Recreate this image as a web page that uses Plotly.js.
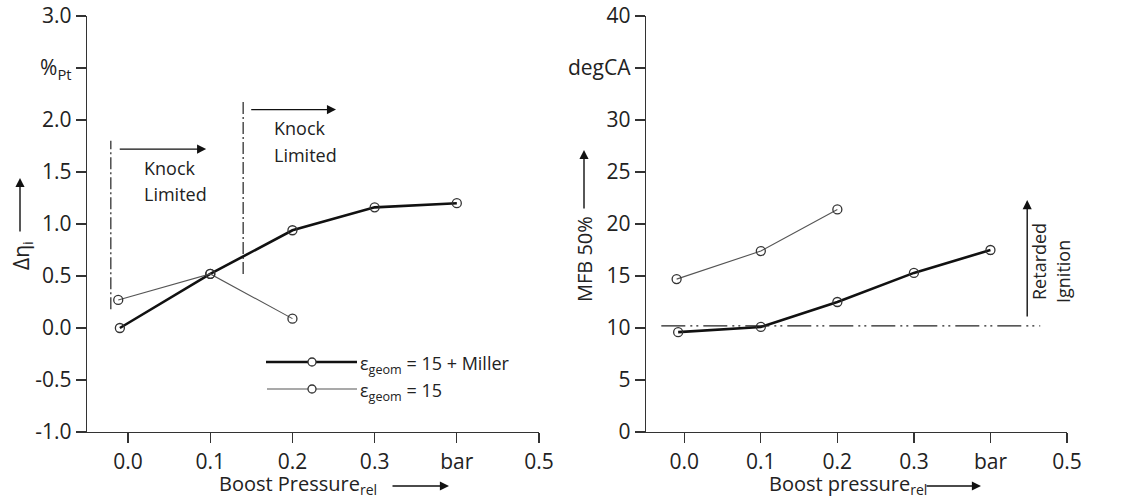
<!DOCTYPE html>
<html>
<head>
<meta charset="utf-8">
<script src="https://cdn.plot.ly/plotly-3.0.1.min.js"></script>
<style>html,body{margin:0;padding:0;background:#fff}#chart{width:1123px;height:501px}</style>
</head>
<body>
<div id="chart"></div>
<script>
// ---- data ----
const boostMillerL = [-0.01, 0.1, 0.2, 0.3, 0.4];
const etaMiller = [0.0, 0.52, 0.94, 1.16, 1.2];
const boostBaseL = [-0.012, 0.1, 0.2];
const etaBase = [0.27, 0.52, 0.09];

const boostMillerR = [-0.008, 0.1, 0.2, 0.3, 0.4];
const mfbMiller = [9.6, 10.1, 12.5, 15.3, 17.5];
const boostBaseR = [-0.01, 0.1, 0.2];
const mfbBase = [14.7, 17.4, 21.4];

const xTickVals = [0, 0.1, 0.2, 0.3, 0.4, 0.5];
const xTickText = ['0.0', '0.1', '0.2', '0.3', 'bar', '0.5'];
const yTickValsL = [-1, -0.5, 0, 0.5, 1, 1.5, 2, 2.5, 3];
const yTickTextL = ['-1.0', '-0.5', '0.0', '0.5', '1.0', '1.5', '2.0', '%<sub>Pt</sub>', '3.0'];
const yTickValsR = [0, 5, 10, 15, 20, 25, 30, 35, 40];
const yTickTextR = ['0', '5', '10', '15', '20', '25', '30', 'degCA', '40'];

const seriesNames = ['ε<sub>geom</sub> = 15 + Miller', 'ε<sub>geom</sub> = 15'];

// ---- styling ----
const FONT = '"Open Sans", "Noto Sans", sans-serif';
const TXT = '#222';
const W = 1123, H = 501;
const px = v => v / W;
const py = v => 1 - v / H;

const thick = {color: '#111', width: 2.6};
const thin = {color: '#555', width: 1.1};
const mk = {symbol: 'circle-open', size: 9, color: '#333', line: {width: 1.3, color: '#333'}};

const traces = [
  {x: boostMillerL, y: etaMiller, xaxis: 'x', yaxis: 'y', mode: 'lines+markers', line: thick, marker: mk, name: seriesNames[0]},
  {x: boostBaseL, y: etaBase, xaxis: 'x', yaxis: 'y', mode: 'lines+markers', line: thin, marker: mk, name: seriesNames[1]},
  {x: boostMillerR, y: mfbMiller, xaxis: 'x2', yaxis: 'y2', mode: 'lines+markers', line: thick, marker: mk, name: seriesNames[0]},
  {x: boostBaseR, y: mfbBase, xaxis: 'x2', yaxis: 'y2', mode: 'lines+markers', line: thin, marker: mk, name: seriesNames[1]}
];

const yDom = [1 - 432 / H, 1 - 16 / H];
const axCommon = {
  showline: true, linecolor: '#333', linewidth: 1.3,
  ticks: 'outside', ticklen: 10, tickwidth: 1.2, tickcolor: '#333',
  showgrid: false, zeroline: false,
  tickfont: {family: FONT, size: 21, color: TXT},
  fixedrange: true
};

const layout = {
  width: W, height: H,
  margin: {l: 0, r: 0, t: 0, b: 0},
  paper_bgcolor: '#fff', plot_bgcolor: '#fff',
  showlegend: false,
  font: {family: FONT, color: TXT},
  xaxis: Object.assign({}, axCommon, {domain: [87 / W, 539 / W], range: [-0.05, 0.5], tickvals: xTickVals, ticktext: xTickText, anchor: 'y'}),
  yaxis: Object.assign({}, axCommon, {domain: yDom, range: [-1, 3], tickvals: yTickValsL, ticktext: yTickTextL, anchor: 'x'}),
  xaxis2: Object.assign({}, axCommon, {domain: [646 / W, 1067 / W], range: [-0.05, 0.5], tickvals: xTickVals, ticktext: xTickText, anchor: 'y2'}),
  yaxis2: Object.assign({}, axCommon, {domain: yDom, range: [0, 40], tickvals: yTickValsR, ticktext: yTickTextR, anchor: 'x2'}),
  shapes: [
    // knock limit markers (left)
    {type: 'line', xref: 'x', yref: 'y', x0: -0.021, x1: -0.021, y0: 0.18, y1: 1.8, line: {color: '#222', width: 1.2, dash: '12px,3px,2px,3px'}},
    {type: 'line', xref: 'x', yref: 'y', x0: 0.14, x1: 0.14, y0: 0.52, y1: 2.2, line: {color: '#222', width: 1.2, dash: '12px,3px,2px,3px'}},
    // reference line (right)
    {type: 'line', xref: 'x2', yref: 'y2', x0: -0.03, x1: 0.465, y0: 10.2, y1: 10.2, line: {color: '#222', width: 1.2, dash: '24px,5px,2px,4px,2px,5px'}},
    // legend samples
    {type: 'line', xref: 'paper', yref: 'paper', x0: px(266), x1: px(357), y0: py(362), y1: py(362), line: {color: '#111', width: 2.6}},
    {type: 'line', xref: 'paper', yref: 'paper', x0: px(267), x1: px(357), y0: py(389), y1: py(389), line: {color: '#555', width: 1.1}},
    {type: 'circle', xref: 'paper', yref: 'paper', x0: px(308), x1: px(316), y0: py(358), y1: py(366), fillcolor: '#fff', line: {color: '#333', width: 1.3}},
    {type: 'circle', xref: 'paper', yref: 'paper', x0: px(308), x1: px(316), y0: py(385), y1: py(393), fillcolor: '#fff', line: {color: '#333', width: 1.3}}
  ],
  annotations: []
};

const A = layout.annotations;
function arrow(xref, yref, x, y, ax, ay) {
  A.push({xref: xref, yref: yref, axref: xref, ayref: yref, x: x, y: y, ax: ax, ay: ay, text: '', showarrow: true,
    arrowhead: 2, arrowsize: 1.3, arrowwidth: 1.4, arrowcolor: '#111', standoff: 0, startstandoff: 0});
}
function text(xref, yref, x, y, t, opts) {
  A.push(Object.assign({xref: xref, yref: yref, x: x, y: y, text: t, showarrow: false,
    font: {family: FONT, size: 18, color: TXT}}, opts || {}));
}

// left panel arrows & labels
arrow('x', 'y', 0.095, 1.72, -0.012, 1.72);
arrow('x', 'y', 0.253, 2.1, 0.148, 2.1);
text('paper', 'paper', px(142), py(168), 'Knock', {xanchor: 'left', yanchor: 'middle'});
text('paper', 'paper', px(142), py(194), 'Limited', {xanchor: 'left', yanchor: 'middle'});
text('paper', 'paper', px(272), py(128), 'Knock', {xanchor: 'left', yanchor: 'middle'});
text('paper', 'paper', px(272), py(155), 'Limited', {xanchor: 'left', yanchor: 'middle'});
// right panel
arrow('x2', 'y2', 0.448, 22.3, 0.448, 10.96);
text('paper', 'paper', px(1039), py(262), 'Retarded', {textangle: -90, xanchor: 'center', yanchor: 'middle'});
text('paper', 'paper', px(1063), py(272), 'Ignition', {textangle: -90, xanchor: 'center', yanchor: 'middle'});

// y titles
text('paper', 'paper', px(22), py(256), 'Δη<sub>i</sub>', {textangle: -90, xanchor: 'center', yanchor: 'middle', font: {family: FONT, size: 21, color: TXT}});
A.push({xref: 'paper', yref: 'paper', x: px(20), y: py(178), ax: 0, ay: 55, text: '', showarrow: true, arrowhead: 2, arrowsize: 1.3, arrowwidth: 1.4, arrowcolor: '#111', standoff: 0});
text('paper', 'paper', px(584), py(259), 'MFB 50%', {textangle: -90, xanchor: 'center', yanchor: 'middle', font: {family: FONT, size: 20, color: TXT}});
A.push({xref: 'paper', yref: 'paper', x: px(584), y: py(150), ax: 0, ay: 60, text: '', showarrow: true, arrowhead: 2, arrowsize: 1.3, arrowwidth: 1.4, arrowcolor: '#111', standoff: 0});

// x titles
text('paper', 'paper', px(217), 0, 'Boost Pressure<sub>rel</sub>', {xanchor: 'left', yanchor: 'bottom', font: {family: FONT, size: 20, color: TXT}});
A.push({xref: 'paper', yref: 'paper', x: px(449), y: py(486), ax: -58, ay: 0, text: '', showarrow: true, arrowhead: 2, arrowsize: 1.3, arrowwidth: 1.4, arrowcolor: '#111', standoff: 0});
text('paper', 'paper', px(767), 0, 'Boost pressure<sub>rel</sub>', {xanchor: 'left', yanchor: 'bottom', font: {family: FONT, size: 20, color: TXT}});
A.push({xref: 'paper', yref: 'paper', x: px(981), y: py(486), ax: -56, ay: 0, text: '', showarrow: true, arrowhead: 2, arrowsize: 1.3, arrowwidth: 1.4, arrowcolor: '#111', standoff: 0});

// legend text
text('paper', 'paper', px(358), py(364), seriesNames[0], {xanchor: 'left', yanchor: 'middle'});
text('paper', 'paper', px(358), py(391), seriesNames[1], {xanchor: 'left', yanchor: 'middle'});

Plotly.newPlot('chart', traces, layout, {displayModeBar: false, staticPlot: true});
</script>
</body>
</html>
